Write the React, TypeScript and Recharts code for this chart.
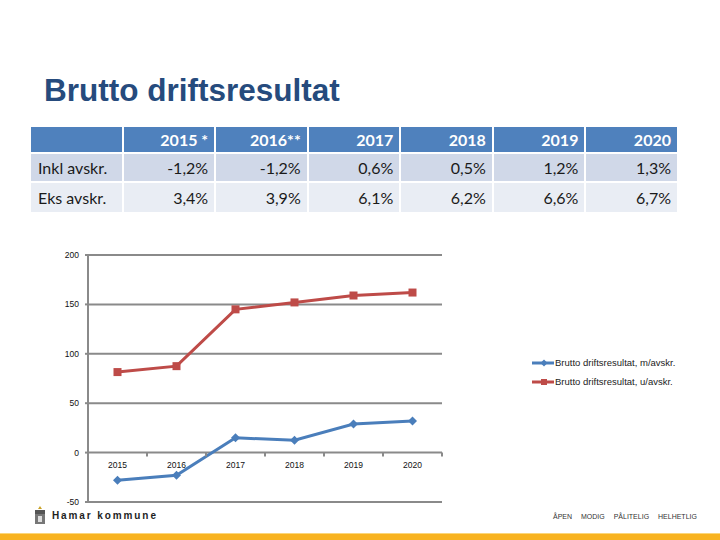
import React from 'react';
import { LineChart, Line, XAxis, YAxis, CartesianGrid } from 'recharts';

// table
const tableYears = ['2015 *', '2016**', '2017', '2018', '2019', '2020'];
const inklPct = ['-1,2%', '-1,2%', '0,6%', '0,5%', '1,2%', '1,3%'];
const eksPct = ['3,4%', '3,9%', '6,1%', '6,2%', '6,6%', '6,7%'];
const rowLabels = ['Inkl avskr.', 'Eks avskr.'];

// chart
const years = ['2015', '2016', '2017', '2018', '2019', '2020'];
const medAvskr = [-28, -23, 15, 12.5, 29, 32];
const utenAvskr = [81.5, 87.5, 145, 152, 159, 162];
const yTicks = [-50, 0, 50, 100, 150, 200];
const seriesNames = ['Brutto driftsresultat, m/avskr.', 'Brutto driftsresultat, u/avskr.'];

const BLUE = '#4a7ebb';
const RED = '#be4b48';
const GRID = '#8a8a8a';

const CHART_W = 460;
const CHART_H = 280;
const X_AXIS_H = 1;
const MARGIN = { top: 15, right: 18, bottom: 17, left: 0 };
const Y_AXIS_W = 88;
const PLOT_H = CHART_H - MARGIN.top - MARGIN.bottom - X_AXIS_H;
const PLOT_W = CHART_W - MARGIN.left - MARGIN.right - Y_AXIS_W;
const Y_MIN = -50;
const Y_MAX = 200;

const data = years.map((year, i) => ({
  year,
  med: medAvskr[i],
  uten: utenAvskr[i],
}));

const Diamond = ({ cx, cy, fill, size = 4.5 }: any) => (
  <path d={`M${cx},${cy - size}L${cx + size},${cy}L${cx},${cy + size}L${cx - size},${cy}Z`} fill={fill} />
);

const Square = ({ cx, cy, fill, size = 4 }: any) => (
  <rect x={cx - size} y={cy - size} width={size * 2} height={size * 2} fill={fill} />
);

// x labels sit under the zero line, not at the bottom of the plot
const XTick = ({ x, y, payload, index }: any) => {
  const shift = (PLOT_H * (0 - Y_MIN)) / (Y_MAX - Y_MIN);
  const y0 = y - shift;
  const band = PLOT_W / years.length;
  return (
    <g>
      <line x1={x - band / 2} x2={x - band / 2} y1={y0} y2={y0 + 4} stroke={GRID} strokeWidth={2} />
      {index === years.length - 1 && (
        <line x1={x + band / 2} x2={x + band / 2} y1={y0} y2={y0 + 4} stroke={GRID} strokeWidth={2} />
      )}
      <text x={x} y={y0 + 15} textAnchor="middle" fontSize={8.5} fill="#111" fontFamily="Liberation Sans, Arial">
        {payload.value}
      </text>
    </g>
  );
};

const cellBase: React.CSSProperties = {
  height: 27,
  display: 'flex',
  alignItems: 'center',
  justifyContent: 'flex-end',
  paddingRight: 6,
  boxSizing: 'border-box',
  fontFamily: 'Lato, "Open Sans", sans-serif',
  fontSize: 16,
  color: '#1a1a1a',
};

export default function App() {
  const rows = [inklPct, eksPct];
  return (
    <div
      style={{
        position: 'absolute',
        left: 0,
        top: 0,
        width: 720,
        height: 540,
        background: '#fff',
        overflow: 'hidden',
        fontFamily: 'Liberation Sans, Arial, sans-serif',
      }}
    >
      <div
        style={{
          position: 'absolute',
          left: 44,
          top: 72,
          fontSize: 31.5,
          fontWeight: 'bold',
          color: '#264b7d',
          fontFamily: 'Liberation Sans, Arial, sans-serif',
          whiteSpace: 'nowrap',
        }}
      >
        Brutto driftsresultat
      </div>

      {/* table */}
      <div
        style={{
          position: 'absolute',
          left: 31,
          top: 127,
          width: 646,
          display: 'grid',
          gridTemplateColumns: 'repeat(7, 1fr)',
          columnGap: 2,
          rowGap: 2,
        }}
      >
        <div style={{ ...cellBase, height: 25, background: '#4f81bd' }} />
        {tableYears.map((y) => (
          <div key={y} style={{ ...cellBase, height: 25, background: '#4f81bd', color: '#fff', fontWeight: 'bold' }}>
            {y}
          </div>
        ))}
        {rows.map((vals, r) => {
          const bg = r === 0 ? '#d0d8e8' : '#e9edf4';
          return (
            <React.Fragment key={r}>
              <div style={{ ...cellBase, background: bg, justifyContent: 'flex-start', paddingLeft: 7, height: r === 0 ? 27 : 29 }}>
                {rowLabels[r]}
              </div>
              {vals.map((v, i) => (
                <div key={i} style={{ ...cellBase, background: bg, height: r === 0 ? 27 : 29 }}>
                  {v}
                </div>
              ))}
            </React.Fragment>
          );
        })}
      </div>

      {/* chart */}
      <div style={{ position: 'absolute', left: 0, top: 240 }}>
        <LineChart width={CHART_W} height={CHART_H} data={data} margin={MARGIN}>
          <CartesianGrid vertical={false} stroke={GRID} strokeWidth={2} />
          <XAxis
            dataKey="year"
            scale="band"
            height={X_AXIS_H}
            axisLine={false}
            tickLine={false}
            tickSize={0}
            tickMargin={0}
            interval={0}
            tick={<XTick />}
          />
          <YAxis
            domain={[Y_MIN, Y_MAX]}
            ticks={yTicks}
            width={Y_AXIS_W}
            axisLine={{ stroke: GRID, strokeWidth: 2 }}
            tickLine={{ stroke: GRID, strokeWidth: 2 }}
            tickSize={3}
            tickMargin={6}
            tick={{ fontSize: 8.5, fill: '#111', fontFamily: 'Liberation Sans, Arial' }}
          />
          <Line
            dataKey="med"
            name={seriesNames[0]}
            stroke={BLUE}
            strokeWidth={3}
            dot={(p: any) => <Diamond key={p.index} cx={p.cx} cy={p.cy} fill={BLUE} />}
            isAnimationActive={false}
          />
          <Line
            dataKey="uten"
            name={seriesNames[1]}
            stroke={RED}
            strokeWidth={3}
            dot={(p: any) => <Square key={p.index} cx={p.cx} cy={p.cy} fill={RED} />}
            isAnimationActive={false}
          />
        </LineChart>
      </div>

      {/* legend */}
      <div style={{ position: 'absolute', left: 532, top: 353 }}>
        {seriesNames.map((name, i) => (
          <div key={name} style={{ display: 'flex', alignItems: 'center', height: 19 }}>
            <svg width={23} height={12}>
              <line x1={0} x2={22} y1={6} y2={6} stroke={i === 0 ? BLUE : RED} strokeWidth={3} />
              {i === 0 ? <Diamond cx={12} cy={6} size={3.5} fill={BLUE} /> : <Square cx={12} cy={6} size={3} fill={RED} />}
            </svg>
            <span style={{ fontSize: 9.5, color: '#222', fontFamily: 'Liberation Sans, Arial', whiteSpace: 'nowrap' }}>
              {name}
            </span>
          </div>
        ))}
      </div>

      {/* footer */}
      <svg style={{ position: 'absolute', left: 34, top: 506 }} width={12} height={20}>
        <path d="M6,0 L8,3 L4,3 Z" fill="#c9a227" />
        <rect x={1} y={4} width={10} height={4} fill="#555" />
        <rect x={1} y={8} width={10} height={10} fill="#777" />
        <rect x={4} y={10} width={4} height={6} fill="#ddd" />
      </svg>
      <div
        style={{
          position: 'absolute',
          left: 52,
          top: 510,
          fontSize: 10,
          fontWeight: 'bold',
          letterSpacing: 1.9,
          color: '#1e1e1e',
          whiteSpace: 'nowrap',
        }}
      >
        Hamar kommune
      </div>
      <div
        style={{
          position: 'absolute',
          left: 553,
          top: 513,
          fontSize: 7,
          color: '#333',
          whiteSpace: 'nowrap',
          wordSpacing: 7,
        }}
      >
        ÅPEN MODIG PÅLITELIG HELHETLIG
      </div>
      <div
        style={{
          position: 'absolute',
          left: 0,
          top: 533,
          width: 720,
          height: 7,
          background: '#f8b320',
          borderTop: '1px solid #fbd67a',
        }}
      />
    </div>
  );
}
